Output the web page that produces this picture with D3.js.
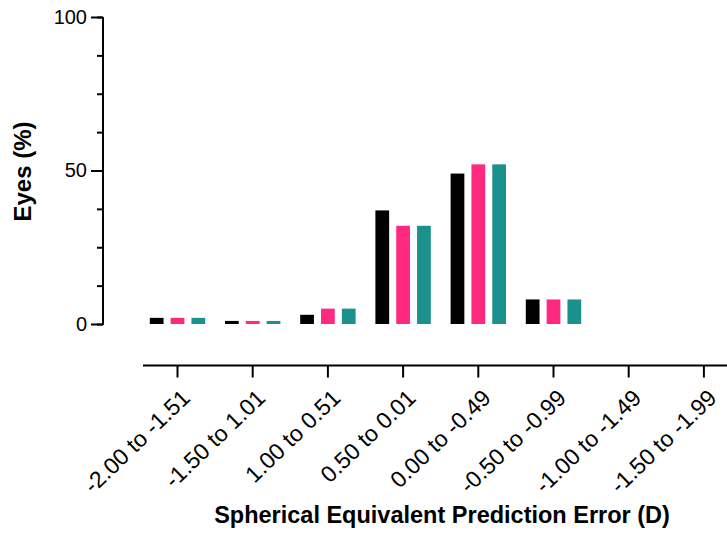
<!DOCTYPE html>
<html><head><meta charset="utf-8">
<script src="https://cdn.jsdelivr.net/npm/d3@7"></script>
<style>body{margin:0;background:#fff;} svg{display:block;}</style>
</head><body>
<svg id="chart" width="727" height="533"></svg>
<script>
const categories = ["-2.00 to -1.51","-1.50 to 1.01","1.00 to 0.51","0.50 to 0.01","0.00 to -0.49","-0.50 to -0.99","-1.00 to -1.49","-1.50 to -1.99"];
const seriesNames = ["A","B","C"];
const seriesA = [2, 1, 3, 37, 49, 8, 0, 0];
const seriesB = [2, 1, 5, 32, 52, 8, 0, 0];
const seriesC = [2, 1, 5, 32, 52, 8, 0, 0];
const colors = ["#000000", "#ff2a7f", "#1b918d"];
const yTicksMajor = [0, 50, 100];

const font = "'Liberation Sans', Arial, Helvetica, sans-serif";
const svg = d3.select("#chart");

const y = d3.scaleLinear().domain([0, 100]).range([324, 17]);
const xBars = d3.scaleBand().domain(categories).range([139.9, 741.5]).padding(0);
const xSub = d3.scaleBand().domain(seriesNames).range([-27.7, 27.7]).paddingInner(0.34).paddingOuter(0);

const data = [seriesA, seriesB, seriesC];

// bars
data.forEach((vals, si) => {
  svg.append("g").selectAll("rect").data(categories).join("rect")
    .attr("x", (c) => xBars(c) + xBars.bandwidth()/2 + xSub(seriesNames[si]))
    .attr("width", xSub.bandwidth())
    .attr("y", (c, i) => y(vals[i]))
    .attr("height", (c, i) => y(0) - y(vals[i]))
    .attr("fill", colors[si]);
});

// y axis
const yAxisG = svg.append("g").attr("transform", "translate(103,0)")
  .call(d3.axisLeft(y).tickValues(d3.range(0, 100.01, 12.5)).tickSize(6).tickFormat(""));
yAxisG.select(".domain").attr("d", `M0,${y(100)}V${y(0)+1}`).attr("stroke", "#000").attr("stroke-width", 2);
yAxisG.selectAll(".tick line").attr("stroke-width", 2);
const yMaj = svg.append("g").attr("transform", "translate(103,0)")
  .call(d3.axisLeft(y).tickValues(yTicksMajor).tickSize(12).tickPadding(4));
yMaj.select(".domain").remove();
yMaj.selectAll(".tick line").attr("stroke-width", 2);
yMaj.selectAll(".tick text").attr("font-family", font).attr("font-size", 20).attr("fill", "#000");

// x axis
const xAxisG = svg.append("g").attr("transform", "translate(0,365.5)")
  .call(d3.axisBottom(xBars).tickSize(12).tickFormat(""));
xAxisG.select(".domain").attr("d", "M143,0H727").attr("stroke-width", 2);
xAxisG.selectAll(".tick line").attr("stroke-width", 2);
xAxisG.selectAll(".tick").append("text")
  .attr("transform", "translate(14,34) rotate(-44)")
  .attr("text-anchor", "end")
  .attr("font-family", font).attr("font-size", 23).attr("fill", "#000")
  .text(d => d);

// axis titles
svg.append("text").attr("transform", "translate(30.5,171.5) rotate(-90)")
  .attr("text-anchor", "middle").attr("font-family", font).attr("font-weight", "bold")
  .attr("font-size", 24).text("Eyes (%)");
svg.append("text").attr("x", 442).attr("y", 523)
  .attr("text-anchor", "middle").attr("font-family", font).attr("font-weight", "bold")
  .attr("font-size", 23.5).text("Spherical Equivalent Prediction Error (D)");
</script>
</body></html>
